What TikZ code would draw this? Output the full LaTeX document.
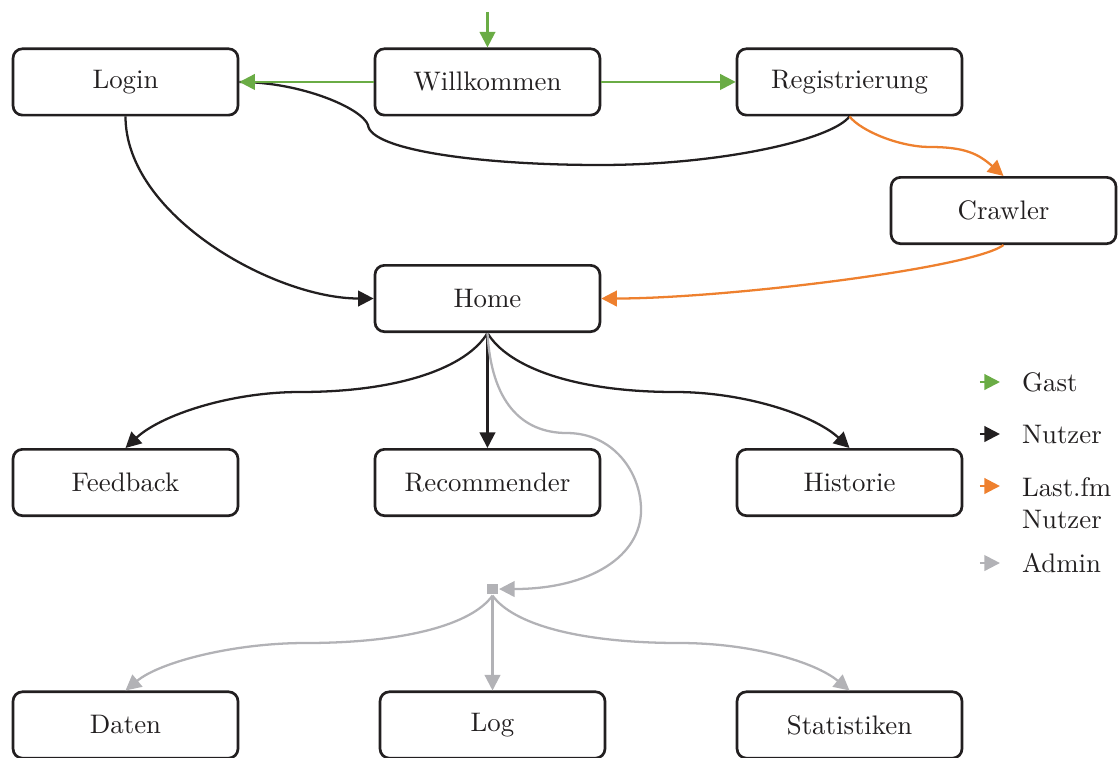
\documentclass[tikz,border=0pt]{standalone}
\usepackage{tikz}
\usetikzlibrary{arrows.meta, positioning}

\definecolor{gast}{RGB}{106,172,69}
\definecolor{nutzer}{RGB}{34,31,32}
\definecolor{lastfm}{RGB}{238,128,46}
\definecolor{admin}{RGB}{178,178,182}

\tikzset{
  page/.style={draw=nutzer, text=nutzer, line width=1pt, rounded corners=3.5pt,
    minimum width=2.95cm, minimum height=0.87cm, fill=white},
  hub/.style={fill=admin, minimum size=4pt, inner sep=0pt},
  gastline/.style={color=gast},
  nutzerline/.style={color=nutzer},
  lastline/.style={color=lastfm},
  adminline/.style={color=admin},
  legend/.style={text=nutzer, inner sep=0pt, align=left}
}

\begin{document}
\begin{tikzpicture}[->, >={Triangle[length=5.8pt,width=5.8pt]}, line width=0.85pt]
    \useasboundingbox (0,0) rectangle (14.662,-9.928);

    \node[page] (login) at (1.646,-1.075) {Login};
    \node[page] (willk) at (6.393,-1.075) {Willkommen};
    \node[page] (reg) at (11.141,-1.075) {Registrierung};
    \node[page] (crawler) at (13.161,-2.761) {Crawler};
    \node[page] (home) at (6.393,-3.915) {Home};
    \node[page] (feedback) at (1.646,-6.328) {Feedback};
    \node[page] (rec) at (6.393,-6.328) {Recommender};
    \node[page] (hist) at (11.141,-6.328) {Historie};
    \node[hub] (admin) at (6.459,-7.725) {};
    \node[page] (daten) at (1.646,-9.508) {Daten};
    \node[page] (log) at (6.459,-9.508) {Log};
    \node[page] (stat) at (11.141,-9.508) {Statistiken};
    \coordinate (start) at (6.393,-0.157);

    % Nutzer
    \draw[-, nutzerline] (reg.south) .. controls +(-0.24,-0.31) and +(1.57,0) .. (7.869,-2.164)
        .. controls +(-1.57,0) and +(0.03,-0.33) .. (4.826,-1.639)
        .. controls +(-0.08,0.22) and +(0.81,0) .. (login.east);
    \draw[nutzerline] (login.south) .. controls +(0,-1.3) and +(-1.3,0) .. (home.west);
    \draw[nutzerline] (home.south) .. controls +(-0.27,-0.45) and +(1.31,0) .. (3.934,-5.141)
        .. controls +(-0.92,0) and +(0.46,0.43) .. (feedback.north);
    \draw[nutzerline] (home.south) -- (rec.north);
    \draw[nutzerline] (home.south) .. controls +(0.27,-0.45) and +(-1.31,0) .. (8.852,-5.141)
        .. controls +(0.92,0) and +(-0.46,0.43) .. (hist.north);

    % Gast
    \draw[gastline] (start) -- (willk.north);
    \draw[gastline] (willk.west) -- (login.east);
    \draw[gastline] (willk.east) -- (reg.west);

    % Last.fm Nutzer
    \draw[lastline] (reg.south) .. controls +(0.157,-0.197) and +(-0.39,0) .. (12.197,-1.928)
        .. controls +(0.46,0) and +(-0.33,0.29) .. (crawler.north);
    \draw[lastline] (crawler.south) .. controls +(-0.42,-0.31) and +(1.6,0) .. (home.east);

    % Admin
    \draw[adminline] (home.south) .. controls +(0.05,-0.9) and +(-0.6,0) .. (7.436,-5.679)
        .. controls +(0.6,0) and +(0,0.5) .. (8.407,-6.689)
        .. controls +(0,-0.6) and +(1.2,0) .. (admin.east);
    \draw[adminline] (admin.south) .. controls +(-0.27,-0.38) and +(1.31,0) .. (4.0,-8.433)
        .. controls +(-0.92,0) and +(0.46,0.38) .. (daten.north);
    \draw[adminline] (admin.south) -- (log.north);
    \draw[adminline] (admin.south) .. controls +(0.27,-0.38) and +(-1.31,0) .. (8.918,-8.433)
        .. controls +(0.92,0) and +(-0.46,0.38) .. (stat.north);

    % Legende
    \coordinate (kgast) at (12.852,-5.010);
    \coordinate (knutzer) at (12.852,-5.692);
    \coordinate (klast) at (12.852,-6.374);
    \coordinate (kadmin) at (12.852,-7.384);
    \node[legend, right=0.537cm of kgast] (lgast) {Gast};
    \node[legend, right=0.537cm of knutzer] (lnutzer) {Nutzer};
    \node[legend, right=0.537cm of klast, yshift=-0.222cm] (llast) {Last.fm\\Nutzer};
    \node[legend, right=0.537cm of kadmin] (ladmin) {Admin};
    \draw[gastline] (kgast) -- ++(0.262,0);
    \draw[nutzerline] (knutzer) -- ++(0.262,0);
    \draw[lastline] (klast) -- ++(0.262,0);
    \draw[adminline] (kadmin) -- ++(0.262,0);
\end{tikzpicture}
\end{document}
